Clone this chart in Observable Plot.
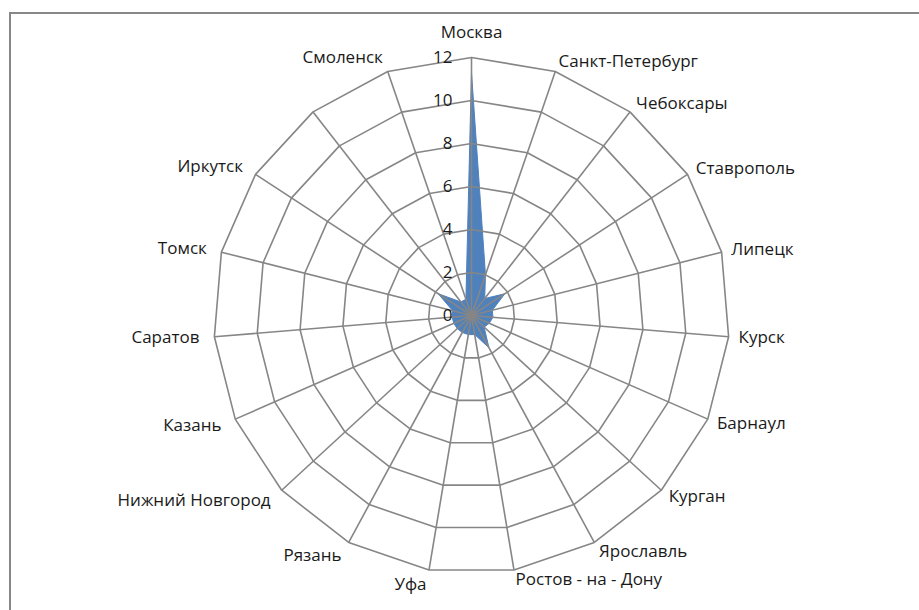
<!DOCTYPE html>
<html>
<head>
<meta charset="utf-8">
<script src="https://cdn.jsdelivr.net/npm/d3@7"></script>
<script src="https://cdn.jsdelivr.net/npm/@observablehq/plot@0.6"></script>
<style>
  html, body { margin: 0; padding: 0; background: #fff; }
  #wrap { position: relative; width: 919px; height: 610px; overflow: hidden; }
  #frame { position: absolute; left: 9px; top: 12px; width: 1000px; height: 700px;
           border-left: 2px solid #878787; border-top: 2px solid #878787; }
  #chart { position: absolute; left: 0; top: 0; }
</style>
</head>
<body>
<div id="wrap"><div id="frame"></div><div id="chart"></div></div>
<script>
const categories = ["Москва","Санкт-Петербург","Чебоксары","Ставрополь","Липецк","Курск","Барнаул","Курган","Ярославль","Ростов - на - Дону","Уфа","Рязань","Нижний Новгород","Казань","Саратов","Томск","Иркутск","","Смоленск"];
const values = [11.3, 2.0, 1.0, 1.85, 1.0, 1.0, 0.9, 0.8, 1.7, 0.9, 0.9, 0.9, 0.9, 0.9, 0.9, 0.9, 1.85, 0.8, 0.8];
const ticks = [0, 2, 4, 6, 8, 10, 12];

const U = 21.5;            // pixels per unit
const CX = 471, CY = 315;  // centre in pixels
const W = 919, H = 610;
const n = categories.length;
const maxT = d3.max(ticks);
const ang = i => 2 * Math.PI * i / n;
const pt = (r, i) => ({x: r * Math.sin(ang(i)), y: r * Math.cos(ang(i))});

const series = values.map((v, i) => pt(v, i));
series.push(series[0]);

const rings = ticks.filter(t => t > 0).flatMap(t =>
  d3.range(n + 1).map(i => ({...pt(t, i % n), level: t})));
const spokes = d3.range(n).map(i => {
  const p = pt(maxT, i);
  return {x1: 0, y1: 0, x2: p.x, y2: p.y};
});

const labels = categories.map((c, i) => {
  const s = Math.sin(ang(i));
  const anchor = s > 0.05 ? "start" : s < -0.05 ? "end" : "middle";
  const off = (anchor === "middle" ? 25 : anchor === "end" ? 15 : 10) / U;
  return {...pt(maxT + off, i), text: c, anchor};
});

const tickLabels = ticks.map(t => ({x: -19 / U, y: t, text: String(t)}));

const font = "'Open Sans', sans-serif";
const textColor = "#1a1a1a";
const gridColor = "#868686";

const plot = Plot.plot({
  width: W, height: H, margin: 0,
  style: {fontFamily: font, background: "transparent"},
  x: {domain: [-CX / U, (W - CX) / U], axis: null},
  y: {domain: [-(H - CY) / U, CY / U], axis: null},
  marks: [
    Plot.line(series, {x: "x", y: "y", fill: "#4F81BD", stroke: "#4F81BD", strokeWidth: 1}),
    Plot.line(rings, {x: "x", y: "y", z: "level", stroke: gridColor, strokeWidth: 1.6}),
    Plot.link(spokes, {x1: "x1", y1: "y1", x2: "x2", y2: "y2", stroke: gridColor, strokeWidth: 1.6}),
    ...["start", "middle", "end"].map(a =>
      Plot.text(labels.filter(d => d.anchor === a), {
        x: "x", y: "y", text: "text", textAnchor: a, lineAnchor: "middle",
        fontSize: 17, fill: textColor
      })),
    Plot.text(tickLabels, {x: "x", y: "y", text: "text", textAnchor: "end", lineAnchor: "middle", fontSize: 17, fill: textColor})
  ]
});
document.getElementById("chart").appendChild(plot);
</script>
</body>
</html>
